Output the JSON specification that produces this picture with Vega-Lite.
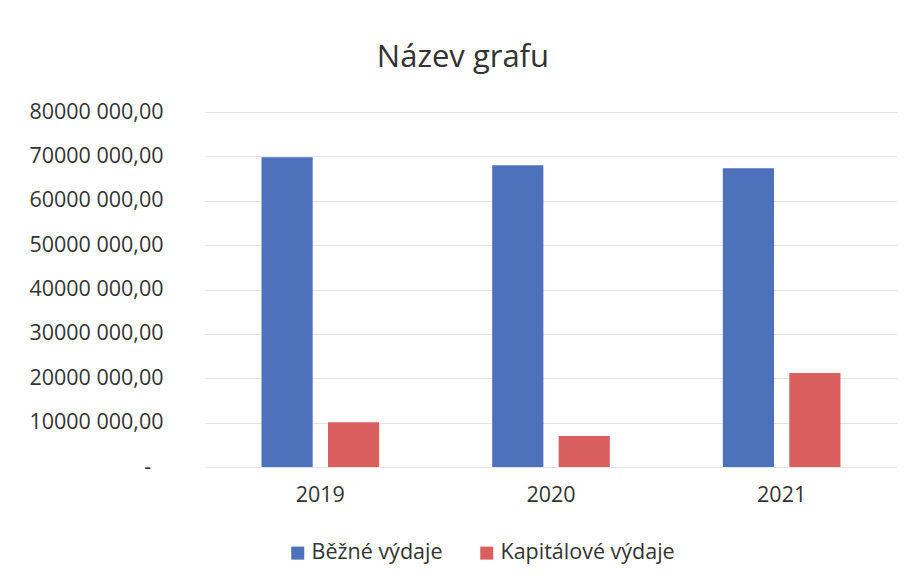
{
  "$schema": "https://vega.github.io/schema/vega-lite/v6.json",
  "width": 692,
  "height": 355,
  "autosize": {"type": "none"},
  "padding": {"left": 205, "top": 112, "right": 15, "bottom": 114},
  "background": "white",
  "title": {
    "text": "Název grafu",
    "font": "Open Sans",
    "fontSize": 31,
    "fontWeight": "normal",
    "color": "#333333",
    "anchor": "middle",
    "frame": "bounds",
    "offset": 27
  },
  "data": {
    "values": [
      {"rok": "2019", "typ": "Běžné výdaje", "hodnota": 69800000},
      {"rok": "2019", "typ": "Kapitálové výdaje", "hodnota": 10100000},
      {"rok": "2020", "typ": "Běžné výdaje", "hodnota": 68000000},
      {"rok": "2020", "typ": "Kapitálové výdaje", "hodnota": 7000000},
      {"rok": "2021", "typ": "Běžné výdaje", "hodnota": 67300000},
      {"rok": "2021", "typ": "Kapitálové výdaje", "hodnota": 21200000}
    ]
  },
  "mark": {"type": "bar"},
  "encoding": {
    "x": {
      "field": "rok",
      "type": "nominal",
      "scale": {"paddingInner": 0.49, "paddingOuter": 0.245},
      "axis": {
        "title": null,
        "labelAngle": 0,
        "domain": false,
        "ticks": false,
        "labelPadding": 17,
        "labelFont": "Open Sans",
        "labelFontSize": 21.5,
        "labelColor": "#333333"
      }
    },
    "xOffset": {
      "field": "typ",
      "type": "nominal",
      "scale": {"paddingInner": 0.23, "paddingOuter": 0}
    },
    "y": {
      "field": "hodnota",
      "type": "quantitative",
      "scale": {"domain": [0, 80000000]},
      "axis": {
        "title": null,
        "values": [0, 10000000, 20000000, 30000000, 40000000, 50000000, 60000000, 70000000, 80000000],
        "labelExpr": "datum.value == 0 ? '-\u2007\u200b' : (datum.value / 1000) + ' 000,00'",
        "domain": false,
        "ticks": false,
        "labelPadding": 42,
        "labelFont": "Open Sans",
        "labelFontSize": 21.5,
        "labelColor": "#333333",
        "gridColor": "#e4e4e4",
        "gridWidth": 1
      }
    },
    "color": {
      "field": "typ",
      "type": "nominal",
      "scale": {"domain": ["Běžné výdaje", "Kapitálové výdaje"], "range": ["#4e71bb", "#d95f5f"]},
      "legend": {
        "title": null,
        "orient": "none",
        "legendX": 82,
        "legendY": 430,
        "direction": "horizontal",
        "symbolType": "square",
        "symbolSize": 169,
        "symbolStrokeWidth": 0,
        "labelOffset": 3,
        "labelLimit": 400,
        "labelFont": "Open Sans",
        "labelFontSize": 21.5,
        "labelColor": "#333333",
        "columnPadding": 33
      }
    }
  },
  "config": {"view": {"stroke": null}}
}
